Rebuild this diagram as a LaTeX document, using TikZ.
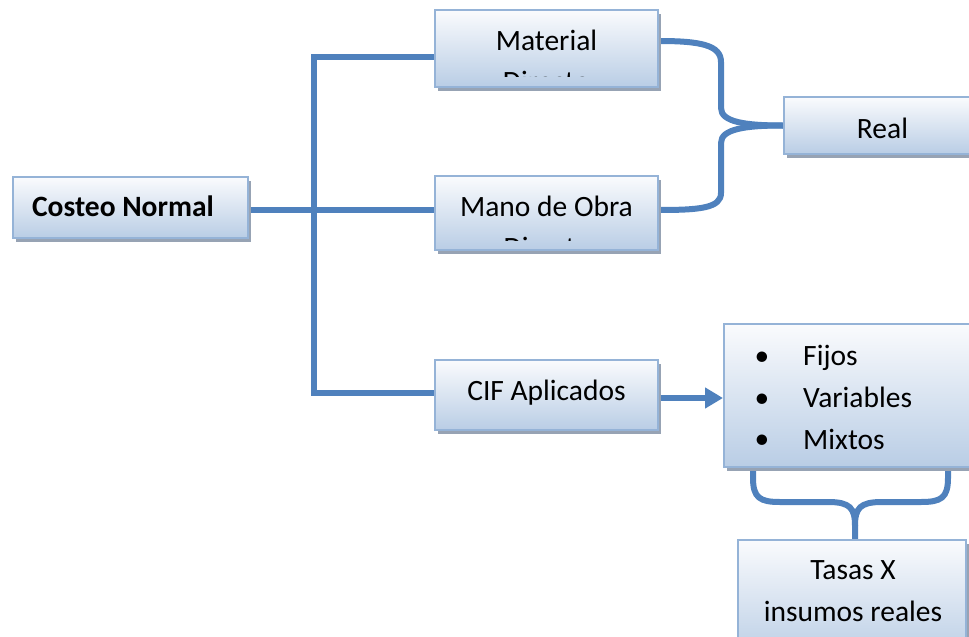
\documentclass[tikz,border=0pt]{standalone}
\usepackage{fontspec}
\setmainfont{Carlito}
\usetikzlibrary{shadows,arrows.meta,backgrounds}
\definecolor{lineblue}{HTML}{4F81BD}
\definecolor{boxborder}{HTML}{95B3D7}
\definecolor{boxtop}{HTML}{FAFBFD}
\definecolor{boxbot}{HTML}{B9CDE5}
\definecolor{shadowgray}{HTML}{97A3B4}
\begin{document}
\begin{tikzpicture}[x=1pt,y=-1pt,
  box/.style={draw=boxborder, line width=2pt, top color=boxtop, bottom color=boxbot,
    inner sep=0pt, drop shadow={shadow xshift=3pt, shadow yshift=-4pt, fill=shadowgray, opacity=1}},
  txt/.style={font=\fontsize{29.5}{35}\selectfont, inner sep=0pt, anchor=base},
  conn/.style={draw=lineblue, line width=6pt, line join=miter}
]
\clip (0,0) rectangle (969,637);

% boxes
\node[box, minimum width=235pt, minimum height=61pt] (costeo) at (130.5,207.5) {};
\node[box, minimum width=223pt, minimum height=77pt] (mat) at (546.5,48.5) {};
\node[box, minimum width=223pt, minimum height=74pt] (mano) at (546.5,213) {};
\node[box, minimum width=223pt, minimum height=70pt] (cif) at (546.5,395) {};
\node[box, minimum width=196pt, minimum height=57pt] (real) at (882,125.5) {};
\node[box, minimum width=276pt, minimum height=143pt] (list) at (862,395.5) {};
\node[box, minimum width=228pt, minimum height=120pt] (tasas) at (852,600) {};

% texts
\node[txt, font=\fontsize{29.5}{35}\selectfont\bfseries] (costeoT) at (123,216) {Costeo Normal};
\node[txt] (matA) at (546.5,50) {Material};
\node[txt] (manoA) at (546.5,216) {Mano de Obra};
\begin{scope}
  \clip ([shift={(2,0)}]mat.north west) rectangle ([shift={(-2,0)}]mat.east |- 0,76);
  \node[txt] (matB) at (546.5,91) {Directo};
\end{scope}
\begin{scope}
  \clip ([shift={(2,0)}]mano.north west) rectangle ([shift={(-2,0)}]mano.east |- 0,240);
  \node[txt] (manoB) at (546.5,257) {Directa};
\end{scope}
\node[txt] (cifT) at (546.5,400) {CIF Aplicados};
\node[txt] (realT) at (882.5,138) {Real};
\node[txt] (b1) at (762,365) {•};
\node[txt] (b2) at (762,407) {•};
\node[txt] (b3) at (762,448) {•};
\node[txt, anchor=base west] (l1) at (803,365) {Fijos};
\node[txt, anchor=base west] (l2) at (803,407) {Variables};
\node[txt, anchor=base west] (l3) at (803,449) {Mixtos};
\node[txt] (tasA) at (853,579) {Tasas X};
\node[txt] (tasB) at (853,621) {insumos reales};

% connectors
\coordinate (j1) at (314,57);
\coordinate (j2) at (314,393);
\begin{scope}[on background layer]
  \draw[conn] (costeo.east |- 0,210) -- (mano.west |- 0,210);
  \draw[conn] (mat.west |- j1) -- (j1) -- (j2) -- (cif.west |- j2);
  \draw[conn, -{Triangle[length=18pt,width=20pt]}] (cif.east |- 0,398) -- (list.west |- 0,398);
  \draw[conn] (mat.east |- 0,41) .. controls (700,41) and (721,45) .. (721,62)
     -- (721,108) .. controls (721,122) and (745,125.5) .. (real.west);
  \draw[conn] (real.west) .. controls (745,125.5) and (721,129) .. (721,143)
     -- (721,193) .. controls (721,208) and (700,210) .. (mano.east |- 0,210);
  \draw[conn] (list.south -| 753,0) -- (753,478) .. controls (753,498) and (760,502) .. (780,502)
     -- (828,502) .. controls (850,502) and (855,508) .. (855,526) -- (tasas.north -| 855,0);
  \draw[conn] (list.south -| 948,0) -- (948,478) .. controls (948,498) and (941,502) .. (921,502)
     -- (882,502) .. controls (860,502) and (855,508) .. (855,526);
\end{scope}
\end{tikzpicture}
\end{document}
